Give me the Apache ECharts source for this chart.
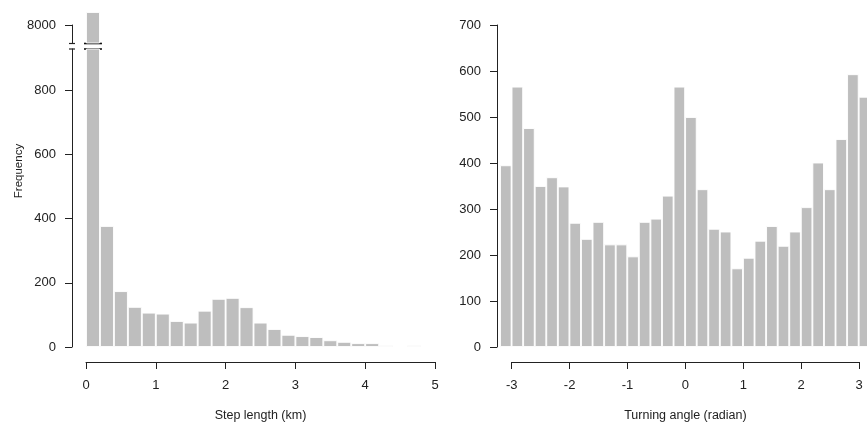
<!DOCTYPE html>
<html>
<head>
<meta charset="utf-8">
<script src="https://cdn.jsdelivr.net/npm/echarts@6/dist/echarts.min.js"></script>
<style>
html,body{margin:0;padding:0;background:#fff;}
#c{width:867px;height:423px;}
</style>
</head>
<body>
<div id="c"></div>
<script>
// ---- data ----
const stepBinStart = [0,0.2,0.4,0.6,0.8,1.0,1.2,1.4,1.6,1.8,2.0,2.2,2.4,2.6,2.8,3.0,3.2,3.4,3.6,3.8,4.0,4.2,4.4,4.6,4.8];
const stepCounts   = [8400,377,174,125,107,104,81,76,113,150,153,124,76,56,38,34,31,21,16,12,12,5,0,5,0];
const turnBinStart = [-3.2,-3.0,-2.8,-2.6,-2.4,-2.2,-2.0,-1.8,-1.6,-1.4,-1.2,-1.0,-0.8,-0.6,-0.4,-0.2,0.0,0.2,0.4,0.6,0.8,1.0,1.2,1.4,1.6,1.8,2.0,2.2,2.4,2.6,2.8,3.0];
const turnCounts   = [395,566,476,350,369,349,270,235,272,223,223,197,272,279,329,566,500,343,257,251,171,194,231,263,220,251,304,401,343,452,593,544];
const stepTicks = [0,1,2,3,4,5];
const turnTicks = [-3,-2,-1,0,1,2,3];
const freqLowerTicks = [0,200,400,600,800];
const freqUpperTicks = [8000];
const turnFreqTicks = [0,100,200,300,400,500,600,700];
const breakLow = 928;     // top of lower segment of broken axis
const breakHigh = 7446;   // bottom of upper segment of broken axis
const upperMax = 8461.5;

const FONT = '"Liberation Sans", Arial, sans-serif';
const TXT = '#222';
const LINE = '#222';
const BAR = '#bebebe';

const chart = echarts.init(document.getElementById('c'), null, {renderer: 'canvas'});

const hiddenCat = (cats, gi) => ({type:'category', data: cats, gridIndex: gi, show:false, boundaryGap:true});
const hiddenVal = (gi, mn, mx) => ({type:'value', gridIndex: gi, show:false, min: mn, max: mx});
const mkGrid = (l, t, w, h) => ({left:l, top:t, width:w, height:h, containLabel:false, outerBoundsMode:'none'});

function visAxis(gi, mn, mx, ticks, extra, margin) {
  return Object.assign({
    type:'value', gridIndex:gi, min:mn, max:mx, show:true,
    axisLine:{show:true, onZero:false, lineStyle:{color:LINE, width:1}},
    axisTick:{show:true, length:7, customValues:ticks, lineStyle:{color:LINE, width:1}},
    splitLine:{show:false},
    axisLabel:{show:true, customValues:ticks, color:TXT, fontSize:13, fontFamily:FONT, margin:margin || 16,
      formatter: v => String(v)}
  }, extra || {});
}

const option = {
  animation:false,
  backgroundColor:'#fff',
  grid:[
    mkGrid(86, 49, 349, 298),      // 0 left lower bars
    mkGrid(86, 10, 349, 33),       // 1 left upper bars
    mkGrid(72, 49, 363, 298),      // 2 left lower y axis
    mkGrid(72, 25, 363, 18),       // 3 left upper y axis
    mkGrid(86, 49, 349, 313),      // 4 left x tick axis
    mkGrid(500, 25, 370.24, 322),  // 5 right bars
    mkGrid(497, 25, 360, 322),     // 6 right y axis
    mkGrid(511.7, 25, 347.4, 337)  // 7 right x tick axis
  ],
  xAxis:[
    hiddenCat(stepBinStart, 0),            // 0
    hiddenCat(stepBinStart, 1),            // 1
    hiddenVal(2, 0, 1),                    // 2
    hiddenVal(3, 0, 1),                    // 3
    visAxis(4, 0, 5, stepTicks, {position:'bottom', name:'Step length (km)', nameLocation:'middle', nameGap:47.5,
      nameTextStyle:{color:TXT, fontSize:12.5, fontFamily:FONT}}, 17),   // 4
    hiddenCat(turnBinStart, 5),            // 5
    hiddenVal(6, 0, 1),                    // 6
    visAxis(7, -3, 3, turnTicks, {position:'bottom', name:'Turning angle (radian)', nameLocation:'middle', nameGap:47.5,
      nameTextStyle:{color:TXT, fontSize:12.5, fontFamily:FONT}}, 17)    // 7
  ],
  yAxis:[
    hiddenVal(0, 0, breakLow),                     // 0
    hiddenVal(1, breakHigh, upperMax),             // 1
    visAxis(2, 0, breakLow, freqLowerTicks, {position:'left'}),   // 2
    visAxis(3, breakHigh, 8000, freqUpperTicks, {position:'left'}), // 3
    hiddenVal(4, 0, 1),                            // 4
    hiddenVal(5, 0, 700),                          // 5
    visAxis(6, 0, 700, turnFreqTicks, {position:'left'}), // 6
    hiddenVal(7, 0, 1)                             // 7
  ],
  series:[
    {type:'bar', xAxisIndex:0, yAxisIndex:0, data:stepCounts, barCategoryGap:'0%',
      itemStyle:{color:BAR, borderColor:'#fff', borderWidth:0.9}, clip:true, silent:true},
    {type:'bar', xAxisIndex:1, yAxisIndex:1, data:stepCounts.map(v => v > breakHigh ? v : '-'), barCategoryGap:'0%',
      itemStyle:{color:BAR, borderColor:'#fff', borderWidth:0.9}, clip:true, silent:true},
    {type:'bar', xAxisIndex:5, yAxisIndex:5, data:turnCounts, barCategoryGap:'0%',
      itemStyle:{color:BAR, borderColor:'#fff', borderWidth:0.9}, clip:true, silent:true}
  ]
};
chart.setOption(option);

// axis-break decorations and rotated y title, positioned from the library's scales
const yBreakTop = chart.convertToPixel({yAxisIndex:3}, breakHigh);
const yBreakBot = chart.convertToPixel({yAxisIndex:2}, breakLow);
const xb0 = chart.convertToPixel({xAxisIndex:4}, stepBinStart[0]);
const xb1 = chart.convertToPixel({xAxisIndex:4}, stepBinStart[1]);
const axisX = chart.convertToPixel({xAxisIndex:2}, 0);
const brk = [];
[yBreakTop + 0.5, yBreakBot].forEach(y => {
  brk.push({type:'line', shape:{x1:axisX-3, y1:y, x2:axisX+3, y2:y}, style:{stroke:LINE, lineWidth:1.2}});
  brk.push({type:'line', shape:{x1:xb0-2, y1:y, x2:xb1+2, y2:y}, style:{stroke:'#111', lineWidth:1.6}});
});
brk.push({type:'text', x:19, y:171, rotation:Math.PI/2,
  style:{text:'Frequency', fill:TXT, font:'11.5px ' + FONT, align:'center', verticalAlign:'middle'}});
chart.setOption({graphic: brk});
</script>
</body>
</html>
